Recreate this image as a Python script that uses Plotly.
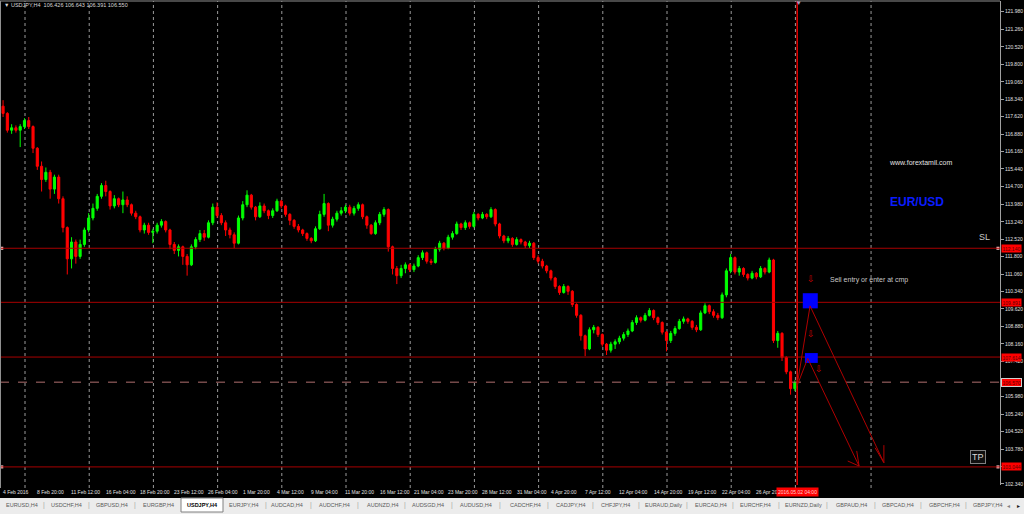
import plotly.graph_objects as go

# ---------------- data ----------------
first_open = 118.05
close = [
    117.75, 117.05, 117.15, 117.05, 117.20, 117.45, 117.20, 116.30, 115.55, 115.00,
    115.30, 114.60, 115.10, 114.20, 113.00, 111.70, 112.40, 111.80, 112.30, 112.90,
    113.40, 113.80, 114.30, 114.75, 114.50, 113.90, 114.20, 113.95, 114.15, 113.95,
    113.60, 113.45, 112.90, 113.10, 112.80, 112.85, 113.10, 113.25, 112.90, 112.30,
    112.05, 112.20, 111.80, 111.45, 112.20, 112.50, 112.75, 112.60, 113.20, 113.85,
    113.50, 113.20, 112.90, 112.70, 112.35, 113.40, 113.95, 114.35, 113.85, 113.45,
    113.90, 113.70, 113.50, 113.70, 114.10, 113.90, 113.55, 113.30, 113.05, 112.90,
    112.75, 112.55, 112.45, 112.95, 113.55, 114.00, 113.10, 113.35, 113.60, 113.70,
    113.85, 113.60, 113.80, 113.95, 113.45, 113.10, 112.75, 113.20, 113.55, 113.75,
    112.20, 111.30, 111.00, 111.30, 111.45, 111.25, 111.40, 111.75, 111.95, 111.60,
    111.55, 112.10, 112.35, 112.15, 112.60, 112.75, 113.15, 113.00, 113.20, 113.05,
    113.55, 113.40, 113.55, 113.45, 113.75, 113.15, 112.65, 112.45, 112.55, 112.30,
    112.50, 112.40, 112.25, 112.35, 111.75, 111.60, 111.40, 111.20, 110.90, 110.55,
    110.30, 110.55, 110.35, 109.80, 109.35, 108.50, 107.95, 108.75, 108.85, 108.55,
    108.15, 107.90, 108.15, 108.25, 108.40, 108.55, 108.70, 109.05, 109.25, 109.15,
    109.35, 109.55, 109.25, 109.05, 108.65, 108.30, 108.60, 108.80, 109.10, 109.20,
    109.10, 108.85, 108.75, 109.45, 109.75, 109.50, 109.35, 109.25, 110.20, 111.20,
    111.75, 111.15, 111.30, 111.05, 110.90, 111.10, 110.95, 111.30, 111.15, 111.65,
    108.30, 108.60, 107.60, 107.00, 106.30, 106.55,
]
high = [
    118.30, 117.80, 117.30, 117.25, 117.30, 117.55, 117.60, 117.25, 116.35, 115.75,
    115.50, 115.40, 115.20, 115.20, 114.30, 113.05, 112.60, 112.50, 112.50, 113.00,
    113.60, 114.00, 114.40, 114.85, 114.95, 114.55, 114.35, 114.25, 114.50, 114.30,
    114.00, 113.70, 113.50, 113.20, 113.20, 112.95, 113.20, 113.35, 113.30, 112.95,
    112.40, 112.30, 112.25, 111.90, 112.30, 112.60, 112.90, 112.90, 113.30, 114.00,
    114.05, 113.60, 113.30, 113.00, 112.80, 113.50, 114.10, 114.55, 114.40, 113.90,
    114.05, 114.00, 113.75, 113.80, 114.20, 114.15, 113.95, 113.60, 113.35, 113.15,
    112.95, 112.80, 112.60, 113.05, 113.70, 114.40, 114.05, 113.45, 113.70, 113.85,
    113.95, 113.95, 113.90, 114.05, 114.00, 113.50, 113.15, 113.30, 113.65, 113.85,
    113.80, 112.25, 111.40, 111.45, 111.55, 111.50, 111.50, 111.85, 112.05, 112.00,
    111.70, 112.20, 112.45, 112.40, 112.70, 112.85, 113.25, 113.20, 113.30, 113.25,
    113.65, 113.60, 113.65, 113.60, 113.85, 113.80, 113.20, 112.70, 112.65, 112.60,
    112.60, 112.55, 112.45, 112.45, 112.40, 111.85, 111.70, 111.45, 111.25, 110.95,
    110.60, 110.65, 110.60, 110.40, 109.85, 109.40, 108.55, 108.85, 108.95, 108.90,
    108.60, 108.20, 108.25, 108.35, 108.50, 108.65, 108.80, 109.15, 109.35, 109.30,
    109.45, 109.65, 109.60, 109.30, 109.10, 108.70, 108.70, 108.90, 109.20, 109.30,
    109.25, 109.15, 108.95, 109.55, 109.85, 109.80, 109.60, 109.45, 110.30, 111.30,
    111.90, 111.80, 111.40, 111.35, 111.10, 111.20, 111.15, 111.40, 111.35, 111.75,
    111.70, 108.70, 108.65, 107.65, 107.05, 106.65,
]
low = [
    117.60, 116.95, 116.90, 116.95, 116.35, 117.10, 117.10, 116.10, 115.40, 114.50,
    114.90, 114.20, 114.40, 114.00, 112.80, 111.05, 111.30, 111.50, 111.70, 112.20,
    112.80, 113.30, 113.70, 114.20, 114.30, 113.75, 113.80, 113.85, 113.60, 113.85,
    113.50, 113.35, 112.80, 112.75, 112.70, 112.35, 112.75, 113.00, 112.80, 112.10,
    111.90, 111.80, 111.45, 111.00, 111.40, 112.10, 112.40, 112.45, 112.55, 113.10,
    113.40, 113.10, 112.65, 112.55, 112.15, 112.30, 113.30, 113.85, 113.75, 113.30,
    113.40, 113.60, 113.35, 113.40, 113.65, 113.80, 113.45, 113.10, 112.95, 112.80,
    112.65, 112.45, 112.35, 112.40, 112.90, 113.45, 112.85, 113.00, 113.25, 113.50,
    113.60, 113.50, 113.50, 113.70, 113.35, 112.95, 112.70, 112.70, 113.10, 113.45,
    112.00, 111.05, 110.65, 110.90, 111.10, 111.15, 111.15, 111.35, 111.65, 111.50,
    111.45, 111.50, 112.00, 112.05, 112.10, 112.50, 112.70, 112.90, 112.90, 112.95,
    113.00, 113.30, 113.35, 113.35, 113.40, 113.05, 112.55, 112.35, 112.35, 112.20,
    112.25, 112.30, 112.15, 112.15, 111.65, 111.50, 111.30, 111.10, 110.80, 110.45,
    110.20, 110.25, 110.20, 109.70, 109.25, 108.30, 107.65, 107.90, 108.60, 108.45,
    108.05, 107.70, 107.80, 107.95, 108.15, 108.30, 108.45, 108.65, 108.95, 109.05,
    109.10, 109.30, 109.15, 108.95, 108.55, 107.85, 108.20, 108.50, 108.75, 109.00,
    109.00, 108.75, 108.65, 108.70, 109.40, 109.40, 109.25, 109.15, 109.20, 110.10,
    111.10, 111.05, 111.00, 110.95, 110.80, 110.85, 110.85, 110.90, 111.05, 111.10,
    108.20, 108.00, 107.45, 106.90, 106.05, 106.20,
]
# FX bars open at the previous bar's close
open_ = [first_open] + close[:-1]

time_labels = [
    "4 Feb 2016", "8 Feb 20:00", "11 Feb 12:00", "16 Feb 04:00", "18 Feb 20:00",
    "23 Feb 12:00", "26 Feb 04:00", "1 Mar 20:00", "4 Mar 12:00", "9 Mar 04:00",
    "11 Mar 20:00", "16 Mar 12:00", "21 Mar 04:00", "23 Mar 20:00", "28 Mar 12:00",
    "31 Mar 04:00", "4 Apr 20:00", "7 Apr 12:00", "12 Apr 04:00", "14 Apr 20:00",
    "19 Apr 12:00", "22 Apr 04:00", "26 Apr 20",
]
y_ticks = [121.98, 121.26, 120.52, 119.80, 119.06, 118.34, 117.62, 116.88, 116.16,
           115.44, 114.70, 113.98, 113.24, 112.52, 111.80, 111.06, 110.34, 109.62,
           108.88, 108.16, 107.42, 106.70, 105.98, 105.24, 104.52, 103.78, 103.06, 102.34]
hidden_ticks = [106.70, 103.06]   # covered by the price boxes in the picture
levels = [112.140, 109.891, 107.614, 103.044]
bid_level = 106.570
header_text = "USDJPY,H4  106.426 106.643 106.391 106.550"
vline_label = "2016.05.02 04:00"
tabs = ["EURUSD,H4", "USDCHF,H4", "GBPUSD,H4", "EURGBP,H4", "USDJPY,H4", "EURJPY,H4",
        "AUDCAD,H4", "AUDCHF,H4", "AUDNZD,H4", "AUDSGD,H4", "AUDUSD,H4", "CADCHF,H4",
        "CADJPY,H4", "CHFJPY,H4", "EURAUD,Daily", "EURCAD,H4", "EURCHF,H4",
        "EURNZD,Daily", "GBPAUD,H4", "GBPCAD,H4", "GBPCHF,H4", "GBPJPY,H4"]
active_tab = "USDJPY,H4"

# ---------------- layout helpers ----------------
W, H = 1024, 514
ML, MR, MT, MB = 0, 24, 1, 29
PH = H - MT - MB
PW = W - ML - MR
FONT = "Liberation Sans, Arial, sans-serif"


def py(p):  # pixel row -> paper y
    return (H - MB - p) / PH


def px(p):  # pixel column -> paper x
    return (p - ML) / PW


bar_x = [2 * i + 0.5 for i in range(len(close))]
label_bars = [16 * k for k in range(len(time_labels))]
grid_bars = [10.75 + 30 * k for k in range(13)] + [406.1]
vline_bar = 371.6

fig = go.Figure()
fig.add_trace(go.Candlestick(
    x=bar_x, open=open_, high=high, low=low, close=close,
    increasing=dict(line=dict(color="#00ff00", width=1), fillcolor="#00ff00"),
    decreasing=dict(line=dict(color="#ff0000", width=1), fillcolor="#ff0000"),
    whiskerwidth=0, showlegend=False, hoverinfo="skip",
))

shapes = []
# dotted vertical grid
for g in grid_bars:
    shapes.append(dict(type="line", xref="x", yref="paper", x0=g, x1=g, y0=py(488), y1=1,
                       line=dict(color="#9a9a9a", width=1, dash="dot"), layer="below"))
# horizontal levels
for lv in levels:
    shapes.append(dict(type="line", xref="paper", yref="y", x0=0, x1=1, y0=lv, y1=lv,
                       line=dict(color="#a80000", width=1)))
shapes.append(dict(type="line", xref="paper", yref="y", x0=0, x1=1, y0=bid_level, y1=bid_level,
                   line=dict(color="#b07070", width=1, dash="dash")))
# vertical red time line
shapes.append(dict(type="line", xref="x", yref="paper", x0=vline_bar, x1=vline_bar, y0=0, y1=1,
                   line=dict(color="#e00000", width=1.5)))
# frame
shapes.append(dict(type="line", xref="paper", yref="paper", x0=0, x1=1, y0=1, y1=1,
                   line=dict(color="#909090", width=1)))
shapes.append(dict(type="line", xref="paper", yref="paper", x0=0.0005, x1=0.0005, y0=py(488), y1=1,
                   line=dict(color="#909090", width=1)))
# blue boxes
shapes.append(dict(type="rect", xref="x", yref="y", x0=374.2, x1=381.2, y0=109.64, y1=110.27,
                   fillcolor="#0000ff", line=dict(width=0)))
shapes.append(dict(type="rect", xref="x", yref="y", x0=375.2, x1=381.2, y0=107.37, y1=107.78,
                   fillcolor="#0000ff", line=dict(width=0)))
# trend lines and arrows
seg_col = "#b00000"
segments = [
    ((371.5, 106.41), (377.6, 109.74)),
    ((371.5, 106.41), (376.5, 107.56)),
    ((377.6, 109.74), (412.1, 103.22)),
    ((376.5, 107.56), (400.5, 103.08)),
    ((395.2, 103.29), (400.5, 103.08)),
    ((399.4, 103.71), (400.5, 103.08)),
    ((408.0, 103.84), (412.1, 103.22)),
    ((412.1, 103.95), (412.1, 103.22)),
]
for (a, b) in segments:
    shapes.append(dict(type="line", xref="x", yref="y", x0=a[0], y0=a[1], x1=b[0], y1=b[1],
                       line=dict(color=seg_col, width=1)))
# tab bar
shapes.append(dict(type="rect", xref="paper", yref="paper", x0=-0.01, x1=1.03, y0=py(498), y1=py(520),
                   fillcolor="#ececec", line=dict(width=0)))
shapes.append(dict(type="rect", xref="paper", yref="paper", x0=px(181), x1=px(223), y0=py(498), y1=py(512),
                   fillcolor="#ffffff", line=dict(color="#808080", width=1)))

annotations = []
# header
annotations.append(dict(xref="paper", yref="paper", x=px(2), y=py(5), xanchor="left", yanchor="middle",
                        text="▼ " + header_text, showarrow=False,
                        font=dict(family=FONT, size=5.5, color="#d8d8d8")))
# time labels
for b, t in zip(label_bars, time_labels):
    annotations.append(dict(xref="x", yref="paper", x=b, y=py(492), xanchor="left", yanchor="middle",
                            xshift=-1, text=t, showarrow=False,
                            font=dict(family=FONT, size=5, color="#e0e0e0")))
# vline date box
annotations.append(dict(xref="x", yref="paper", x=vline_bar, y=py(492), xanchor="center", yanchor="middle",
                        text=vline_label, showarrow=False, bgcolor="#ff0000", borderpad=1,
                        font=dict(family=FONT, size=5, color="#ffd0d0")))
annotations.append(dict(xref="x", yref="paper", x=vline_bar + 0.8, y=py(3), xanchor="center", yanchor="middle",
                        text="▾", showarrow=False, font=dict(family="DejaVu Sans", size=7, color="#a0a0c8")))
# price labels on right axis
for lv in levels:
    annotations.append(dict(xref="paper", yref="y", x=1.0, y=lv, xanchor="left", yanchor="middle", xshift=1,
                            text=f"{lv:.3f}", showarrow=False, bgcolor="#ff0000", borderpad=0.5,
                            font=dict(family=FONT, size=5, color="#600000")))
annotations.append(dict(xref="paper", yref="y", x=1.0, y=bid_level, xanchor="left", yanchor="middle", xshift=1,
                        text=f"{bid_level:.3f}", showarrow=False, bgcolor="#ff0000", borderpad=0.5,
                        bordercolor="#d0d0d0", borderwidth=1,
                        font=dict(family=FONT, size=5, color="#600000")))
# chart texts
arrow_pts = [(377.9, 110.85), (377.9, 108.56), (381.9, 107.11)]
for (xa, ya) in arrow_pts:
    annotations.append(dict(xref="x", yref="y", x=xa, y=ya, text="⇩", showarrow=False,
                            font=dict(family="DejaVu Sans", size=9, color="#d00000")))
annotations.append(dict(xref="x", yref="y", x=386.0, y=110.81, xanchor="left", yanchor="middle",
                        text="Sell entry or enter at cmp", showarrow=False,
                        font=dict(family=FONT, size=7, color="#c8c8c8")))
annotations.append(dict(xref="x", yref="y", x=413.4, y=115.70, xanchor="left", yanchor="middle",
                        text="www.forextamil.com", showarrow=False,
                        font=dict(family=FONT, size=7, color="#e0e0e0")))
annotations.append(dict(xref="x", yref="y", x=414.0, y=114.08, xanchor="left", yanchor="middle",
                        text="<b>EUR/USD</b>", showarrow=False,
                        font=dict(family=FONT, size=12, color="#0a1cff")))
annotations.append(dict(xref="x", yref="y", x=455.6, y=112.61, xanchor="left", yanchor="middle",
                        text="SL", showarrow=False,
                        font=dict(family=FONT, size=9, color="#c8c8c8")))
annotations.append(dict(xref="x", yref="y", x=456.3, y=103.47, xanchor="center", yanchor="middle",
                        text="TP", showarrow=False, bgcolor="#101010", bordercolor="#808080",
                        borderwidth=1, borderpad=1,
                        font=dict(family=FONT, size=9, color="#d8d8d8")))
# tabs
tab_centers = [22, 66, 112, 158, 202, 244, 287, 334, 382, 428, 476, 525, 571, 615, 663, 711,
               755, 803, 851, 898, 944, 988]
for name, cx in zip(tabs, tab_centers):
    act = name == active_tab
    annotations.append(dict(xref="paper", yref="paper", x=px(cx), y=py(505), xanchor="center",
                            yanchor="middle", text=("<b>%s</b>" % name) if act else name, showarrow=False,
                            font=dict(family=FONT, size=5.5, color="#000000" if act else "#5a5a5a")))
for a, b in zip(tab_centers[:-1], tab_centers[1:]):
    if a == 202 or b == 202:
        continue
    annotations.append(dict(xref="paper", yref="paper", x=px((a + b) / 2), y=py(505), xanchor="center",
                            yanchor="middle", text="|", showarrow=False,
                            font=dict(family=FONT, size=7, color="#a8a8a8")))
annotations.append(dict(xref="paper", yref="paper", x=px(1008), y=py(505), xanchor="center", yanchor="middle",
                        text="◂", showarrow=False, font=dict(family="DejaVu Sans", size=6, color="#808080")))
annotations.append(dict(xref="paper", yref="paper", x=px(1018), y=py(505), xanchor="center", yanchor="middle",
                        text="▸", showarrow=False, font=dict(family="DejaVu Sans", size=6, color="#202020")))

# selection handles on the SL / TP lines
fig.add_trace(go.Scatter(
    x=[-0.1, 465.4, -0.1, 465.4], y=[levels[0], levels[0], levels[3], levels[3]],
    mode="markers", cliponaxis=False, showlegend=False, hoverinfo="skip",
    marker=dict(symbol="square", size=3, color="#ffd0d0", line=dict(width=0)),
))

x_lo = (ML - 2) / 2.14
x_hi = (PW - 2) / 2.14
y_hi = 121.98 + (10.7 - 0) / 24.04
y_lo = 121.98 - (PH - 10.7) / 24.04

fig.update_layout(
    width=W, height=H,
    margin=dict(l=ML, r=MR, t=MT, b=MB, pad=0),
    paper_bgcolor="#000000", plot_bgcolor="#000000",
    shapes=shapes, annotations=annotations,
    showlegend=False,
    xaxis=dict(range=[x_lo, x_hi], showgrid=False, zeroline=False, showticklabels=False,
               ticks="", rangeslider=dict(visible=False), showline=False, fixedrange=True),
    yaxis=dict(range=[y_lo, y_hi], side="right", showgrid=False, zeroline=False,
               tickmode="array", tickvals=y_ticks,
               ticktext=["" if v in hidden_ticks else f"{v:.3f}" for v in y_ticks],
               ticks="outside", ticklen=3, tickcolor="#a0a0a0", tickwidth=1,
               showline=True, linecolor="#a0a0a0", linewidth=1, mirror=False,
               tickfont=dict(family=FONT, size=5, color="#e0e0e0"), fixedrange=True),
)

fig.write_html("out.html", config={"displayModeBar": False},
               post_script="document.body.style.margin='0';document.body.style.overflow='hidden';")
